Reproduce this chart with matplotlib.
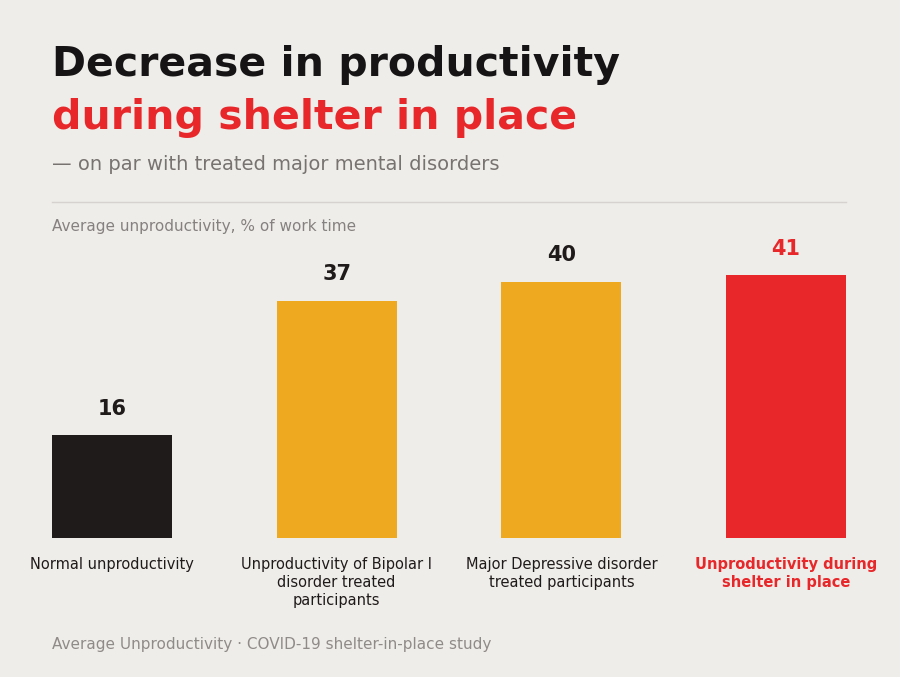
import matplotlib
matplotlib.use('Agg')
import matplotlib.pyplot as plt

bg = "#efedea"
labels = ["Normal unproductivity", "Unproductivity of Bipolar I\ndisorder treated\nparticipants",
          "Major Depressive disorder\ntreated participants", "Unproductivity during\nshelter in place"]
values = [16, 37, 40, 41]
colors = ["#1f1b1b", "#eea920", "#eea920", "#e8272a"]
valcolors = ["#1f1b1b", "#1f1b1b", "#1f1b1b", "#e8272a"]

fig = plt.figure(figsize=(9, 6.77), dpi=100, facecolor=bg)
W, H = 900, 677
ax = fig.add_axes([52 / W, 1 - 538 / H, 794 / W, 45 * 6.41 / H])
ax.set_facecolor(bg)
w = 120 / 225
ax.bar(range(4), values, width=w, color=colors)
ax.set_xlim(-w / 2, 3 + w / 2)
ax.set_ylim(0, 45)
ax.axis('off')
for i, v in enumerate(values):
    ax.text(i, v + 2.6, str(v), ha='center', va='bottom', fontsize=15, fontweight='bold', color=valcolors[i])
for i, lab in enumerate(labels):
    ax.text(i, -3.0, lab, ha='center', va='top', fontsize=10.5, linespacing=1.25,
            color=valcolors[i], fontweight='bold' if i == 3 else 'normal')

fig.text(52 / W, 1 - 65 / H, "Decrease in productivity", fontsize=29.5, fontweight='heavy', color="#161414", va='center')
fig.text(52 / W, 1 - 118 / H, "during shelter in place", fontsize=29.5, fontweight='heavy', color="#e8272a", va='center')
fig.text(52 / W, 1 - 165 / H, "— on par with treated major mental disorders", fontsize=14, color="#777370", va='center')
fig.add_artist(plt.Line2D([52 / W, 846 / W], [1 - 202 / H, 1 - 202 / H], color="#d5d2cf", lw=1))
fig.text(52 / W, 1 - 227 / H, "Average unproductivity, % of work time", fontsize=11, color="#858180", va='center')
fig.text(52 / W, 1 - 645 / H, "Average Unproductivity · COVID-19 shelter-in-place study", fontsize=11, color="#8f8b88", va='center')

fig.savefig("out.png", dpi=100, facecolor=bg)
